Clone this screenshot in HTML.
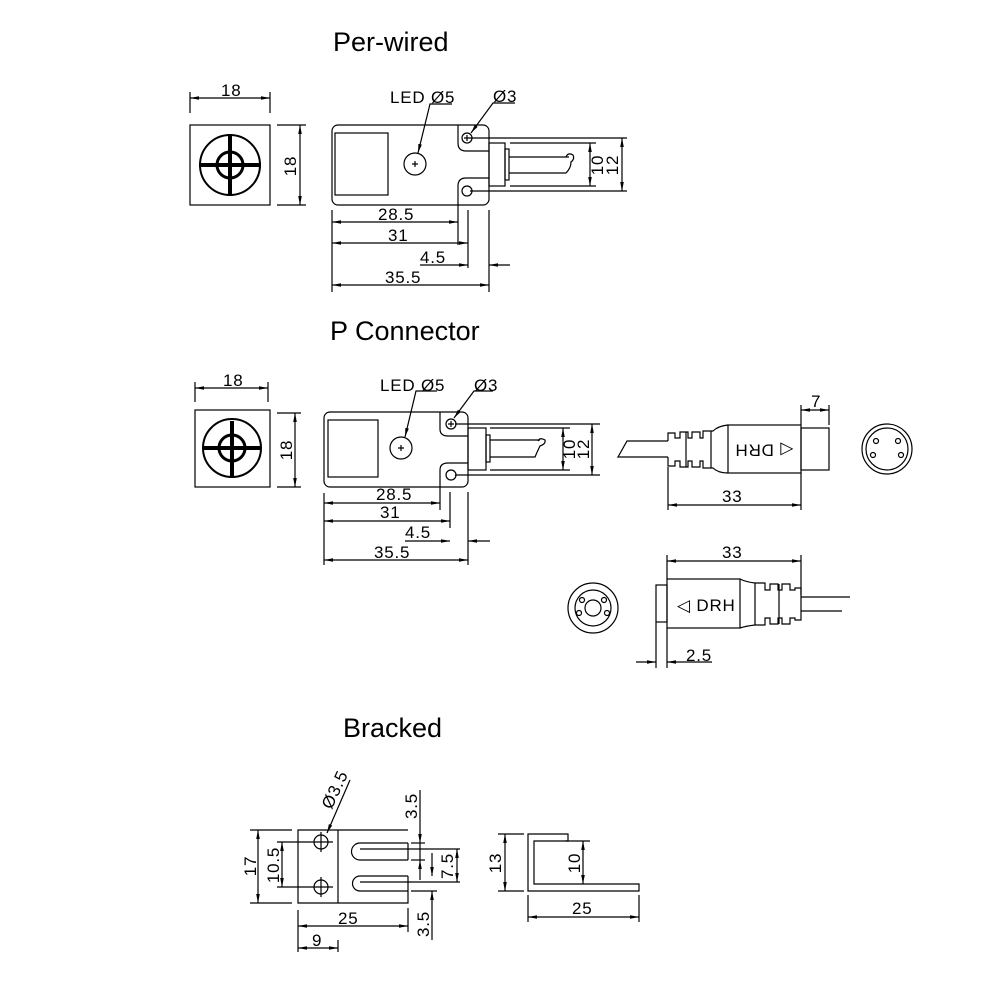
<!DOCTYPE html>
<html><head><meta charset="utf-8"><style>
html,body{margin:0;padding:0;background:#fff;}
svg{display:block;}
text{font-family:"Liberation Sans",sans-serif;fill:#000;}
.t{font-size:17px;letter-spacing:0.8px;}
.h{font-size:27px;}
</style></head><body>
<svg width="1000" height="1000" viewBox="0 0 1000 1000" xmlns="http://www.w3.org/2000/svg">
<defs>
<marker id="a" markerWidth="10" markerHeight="6" refX="9" refY="3" orient="auto-start-reverse" markerUnits="userSpaceOnUse">
<path d="M0,1.2 L9,3 L0,4.8 Z" fill="#000"/></marker>
</defs>
<g stroke="#000" stroke-width="1.2" fill="none">

<!-- ===== Per-wired ===== -->
<rect x="190" y="125" width="80" height="80"/>
<circle cx="230" cy="165" r="30" stroke-width="2"/>
<circle cx="230" cy="165" r="13" stroke-width="3"/>
<line x1="199" y1="165" x2="261" y2="165" stroke-width="4"/>
<line x1="230" y1="134" x2="230" y2="196" stroke-width="4"/>
<line x1="190" y1="92" x2="190" y2="113"/><line x1="270" y1="92" x2="270" y2="113"/>
<line x1="190" y1="98" x2="270" y2="98" marker-start="url(#a)" marker-end="url(#a)"/>
<line x1="277" y1="125" x2="306" y2="125"/><line x1="277" y1="205" x2="306" y2="205"/>
<line x1="300" y1="125" x2="300" y2="205" marker-start="url(#a)" marker-end="url(#a)"/>

<rect x="332" y="125" width="157" height="80" rx="6"/>
<rect x="335" y="133" width="53" height="62"/>
<circle cx="415" cy="164" r="11"/>
<path d="M412,164 H418 M415,161 V167"/>
<path d="M458,125 V143 Q458,151 466,151 H489"/>
<path d="M458,205 V186 Q458,178 466,178 H489"/>
<circle cx="467" cy="138" r="5"/><circle cx="467" cy="191" r="5"/>
<path d="M464,138 H470 M467,135 V141"/>
<rect x="489" y="143" width="16" height="43"/>
<rect x="505" y="149" width="4" height="31"/>
<path d="M509,157 H569 M509,173 H566 Q571,168 571,162 Q575,159 573,155 Q568,152 566,157"/>
<line x1="470" y1="138" x2="627" y2="138"/><line x1="470" y1="191" x2="627" y2="191"/>
<line x1="510" y1="143" x2="596" y2="143"/><line x1="510" y1="186" x2="596" y2="186"/>
<line x1="590" y1="143" x2="590" y2="186" marker-start="url(#a)" marker-end="url(#a)"/>
<line x1="622" y1="138" x2="622" y2="191" marker-start="url(#a)" marker-end="url(#a)"/>
<path d="M452,104 H430 L418,153" marker-end="url(#a)"/>
<path d="M515,103 H493 L471,133" marker-end="url(#a)"/>
<line x1="332" y1="210" x2="332" y2="292"/><line x1="458" y1="205" x2="458" y2="245"/>
<line x1="468" y1="210" x2="468" y2="268"/><line x1="489" y1="210" x2="489" y2="292"/>
<line x1="332" y1="222" x2="458" y2="222" marker-start="url(#a)" marker-end="url(#a)"/>
<line x1="332" y1="243" x2="468" y2="243" marker-start="url(#a)" marker-end="url(#a)"/>
<line x1="420" y1="265" x2="468" y2="265" marker-end="url(#a)"/>
<line x1="510" y1="265" x2="489" y2="265" marker-end="url(#a)"/>
<line x1="332" y1="285" x2="489" y2="285" marker-start="url(#a)" marker-end="url(#a)"/>

<!-- ===== P Connector ===== -->
<rect x="195" y="410" width="75" height="77"/>
<circle cx="232" cy="448" r="29" stroke-width="2"/>
<circle cx="232" cy="448" r="13" stroke-width="3"/>
<line x1="203" y1="448" x2="261" y2="448" stroke-width="4"/>
<line x1="232" y1="421" x2="232" y2="478" stroke-width="4"/>
<line x1="195" y1="382" x2="195" y2="402"/><line x1="268" y1="382" x2="268" y2="402"/>
<line x1="195" y1="388" x2="268" y2="388" marker-start="url(#a)" marker-end="url(#a)"/>
<line x1="277" y1="413" x2="301" y2="413"/><line x1="277" y1="487" x2="301" y2="487"/>
<line x1="295" y1="413" x2="295" y2="487" marker-start="url(#a)" marker-end="url(#a)"/>

<rect x="324" y="412" width="144" height="75" rx="6"/>
<rect x="328" y="420" width="50" height="57"/>
<circle cx="401" cy="448" r="11"/>
<path d="M398,448 H404 M401,445 V451"/>
<path d="M440,412 V429 Q440,436 448,436 H468"/>
<path d="M440,487 V470 Q440,463 448,463 H468"/>
<circle cx="451" cy="424" r="5"/><circle cx="451" cy="475" r="5"/>
<path d="M448,424 H454 M451,421 V427"/>
<rect x="468" y="428" width="18" height="42"/>
<rect x="486" y="435" width="4" height="27"/>
<path d="M490,440 H540 M490,457 H535 Q538,450 540,446 Q546,444 545,440 Q540,437 538,441"/>
<line x1="455" y1="424" x2="600" y2="424"/><line x1="455" y1="475" x2="600" y2="475"/>
<line x1="490" y1="428" x2="570" y2="428"/><line x1="490" y1="470" x2="570" y2="470"/>
<line x1="563" y1="428" x2="563" y2="470" marker-start="url(#a)" marker-end="url(#a)"/>
<line x1="592" y1="424" x2="592" y2="475" marker-start="url(#a)" marker-end="url(#a)"/>
<path d="M437,391 H416 L405,437" marker-end="url(#a)"/>
<path d="M493,391 H474 L454,418" marker-end="url(#a)"/>
<line x1="324" y1="493" x2="324" y2="565"/><line x1="440" y1="487" x2="440" y2="510"/>
<line x1="450" y1="492" x2="450" y2="528"/><line x1="468" y1="492" x2="468" y2="565"/>
<line x1="324" y1="503" x2="440" y2="503" marker-start="url(#a)" marker-end="url(#a)"/>
<line x1="324" y1="521" x2="450" y2="521" marker-start="url(#a)" marker-end="url(#a)"/>
<line x1="405" y1="541" x2="450" y2="541" marker-end="url(#a)"/>
<line x1="490" y1="541" x2="468" y2="541" marker-end="url(#a)"/>
<line x1="324" y1="560" x2="468" y2="560" marker-start="url(#a)" marker-end="url(#a)"/>

<!-- connector upper -->
<path d="M668,441 H627 L618,457 H668"/>
<path d="M668,441 V433 H675 V438 H680 V432 H688 V438 H692 V432 H700 V438 H703 V431 H713 Q718,426 728,425"/>
<path d="M668,457 V466 H675 V461 H680 V467 H688 V461 H692 V467 H700 V461 H703 V468 H713 Q718,473 728,473"/>
<line x1="686" y1="432" x2="686" y2="467"/><line x1="711" y1="431" x2="711" y2="468"/>
<rect x="728" y="425" width="73" height="48"/>
<rect x="801" y="428" width="28" height="42"/>
<line x1="668" y1="467" x2="668" y2="510"/><line x1="801" y1="473" x2="801" y2="510"/>
<line x1="668" y1="505" x2="801" y2="505" marker-start="url(#a)" marker-end="url(#a)"/>
<line x1="801" y1="405" x2="801" y2="425"/><line x1="829" y1="405" x2="829" y2="425"/>
<line x1="801" y1="410" x2="829" y2="410" marker-start="url(#a)" marker-end="url(#a)"/>
<circle cx="887" cy="449" r="25"/><circle cx="887" cy="449" r="21"/>
<circle cx="876" cy="441" r="2.5"/><circle cx="898" cy="441" r="2.5"/>
<circle cx="873" cy="455" r="2.5"/><circle cx="901" cy="455" r="2.5"/>

<!-- connector lower -->
<rect x="656" y="585" width="11" height="37"/>
<rect x="667" y="579" width="73" height="49"/>
<path d="M740,579 Q746,582 755,583 H765 V590 H770 V584 H778 V590 H782 V584 H790 V590 H795 V588 H801 V620 H795 V618 H790 V624 H782 V618 H778 V624 H770 V618 H765 V625 H755 Q746,626 740,628"/>
<line x1="755" y1="583" x2="755" y2="625"/><line x1="779" y1="584" x2="779" y2="624"/>
<path d="M801,597 H850 M801,611 H842"/>
<line x1="667" y1="555" x2="667" y2="579"/><line x1="801" y1="555" x2="801" y2="595"/>
<line x1="667" y1="561" x2="801" y2="561" marker-start="url(#a)" marker-end="url(#a)"/>
<line x1="656" y1="622" x2="656" y2="668"/><line x1="667" y1="628" x2="667" y2="668"/>
<line x1="636" y1="662" x2="656" y2="662" marker-end="url(#a)"/>
<line x1="712" y1="662" x2="667" y2="662" marker-end="url(#a)"/>
<circle cx="593" cy="608" r="25"/><circle cx="593" cy="608" r="18"/><circle cx="593" cy="608" r="8"/>
<circle cx="582" cy="600" r="2.5"/><circle cx="604" cy="600" r="2.5"/>
<circle cx="579" cy="613" r="2.5"/><circle cx="607" cy="613" r="2.5"/>

<!-- ===== Bracked ===== -->
<path d="M408,830 H298 V903 H408 V876 M408,860 V843"/>
<line x1="338" y1="830" x2="338" y2="903"/>
<path d="M408,843 H360 A8.5,8.5 0 0 0 360,860 H408"/>
<path d="M408,876 H360 A7.5,7.5 0 0 0 360,891 H408"/>
<line x1="360" y1="849" x2="460" y2="849"/><line x1="360" y1="882" x2="460" y2="882"/>
<line x1="411" y1="843" x2="425" y2="843"/><line x1="411" y1="860" x2="425" y2="860"/>
<line x1="411" y1="891" x2="437" y2="891"/>
<circle cx="321" cy="842" r="7"/><circle cx="321" cy="887" r="7"/>
<line x1="277" y1="842" x2="333" y2="842"/><line x1="321" y1="832" x2="321" y2="852"/>
<line x1="277" y1="887" x2="333" y2="887"/><line x1="321" y1="877" x2="321" y2="897"/>
<line x1="250" y1="830" x2="292" y2="830"/><line x1="250" y1="903" x2="292" y2="903"/>
<line x1="258" y1="830" x2="258" y2="903" marker-start="url(#a)" marker-end="url(#a)"/>
<line x1="282" y1="842" x2="282" y2="887" marker-start="url(#a)" marker-end="url(#a)"/>
<line x1="298" y1="910" x2="298" y2="952"/><line x1="408" y1="908" x2="408" y2="932"/>
<line x1="338" y1="940" x2="338" y2="952"/>
<line x1="298" y1="926" x2="408" y2="926" marker-start="url(#a)" marker-end="url(#a)"/>
<line x1="298" y1="948" x2="338" y2="948" marker-start="url(#a)" marker-end="url(#a)"/>
<line x1="420" y1="790" x2="420" y2="843" marker-end="url(#a)"/>
<line x1="420" y1="880" x2="420" y2="860" marker-end="url(#a)"/>
<line x1="420" y1="843" x2="420" y2="860"/>
<line x1="432" y1="853" x2="432" y2="876" marker-end="url(#a)"/>
<line x1="432" y1="940" x2="432" y2="891" marker-end="url(#a)"/>
<line x1="457" y1="849" x2="457" y2="882" marker-start="url(#a)" marker-end="url(#a)"/>
<path d="M327,833 L350,780" marker-start="url(#a)"/>

<path d="M528,834 H568 V841 H534 V884 H639 V891 H528 Z"/>
<line x1="498" y1="834" x2="524" y2="834"/><line x1="498" y1="891" x2="524" y2="891"/>
<line x1="505" y1="834" x2="505" y2="891" marker-start="url(#a)" marker-end="url(#a)"/>
<line x1="565" y1="841" x2="590" y2="841"/>
<line x1="583" y1="841" x2="583" y2="884" marker-start="url(#a)" marker-end="url(#a)"/>
<line x1="528" y1="895" x2="528" y2="922"/><line x1="639" y1="895" x2="639" y2="922"/>
<line x1="528" y1="917" x2="639" y2="917" marker-start="url(#a)" marker-end="url(#a)"/>
</g>

<!-- text -->
<text class="h" x="333" y="51">Per-wired</text>
<text class="t" x="221" y="96">18</text>
<text class="t" transform="translate(296,166) rotate(-90)" text-anchor="middle">18</text>
<text class="t" x="390" y="103">LED Ø5</text>
<text class="t" x="493" y="102">Ø3</text>
<text class="t" transform="translate(603,165) rotate(-90)" text-anchor="middle">10</text>
<text class="t" transform="translate(618,165) rotate(-90)" text-anchor="middle">12</text>
<text class="t" x="378" y="220">28.5</text>
<text class="t" x="388" y="241">31</text>
<text class="t" x="420" y="263">4.5</text>
<text class="t" x="385" y="283">35.5</text>

<text class="h" x="330" y="340">P Connector</text>
<text class="t" x="223" y="386">18</text>
<text class="t" transform="translate(292,450) rotate(-90)" text-anchor="middle">18</text>
<text class="t" x="380" y="391">LED Ø5</text>
<text class="t" x="474" y="391">Ø3</text>
<text class="t" transform="translate(575,449) rotate(-90)" text-anchor="middle">10</text>
<text class="t" transform="translate(589,449) rotate(-90)" text-anchor="middle">12</text>
<text class="t" x="376" y="500">28.5</text>
<text class="t" x="380" y="518">31</text>
<text class="t" x="405" y="538">4.5</text>
<text class="t" x="374" y="558">35.5</text>

<text class="t" transform="translate(764,449) rotate(180)" text-anchor="middle" dominant-baseline="middle">◁ DRH</text>
<text class="t" x="722" y="502">33</text>
<text class="t" x="811" y="407">7</text>
<text class="t" x="677" y="611">◁ DRH</text>
<text class="t" x="722" y="558">33</text>
<text class="t" x="686" y="661">2.5</text>

<text class="h" x="343" y="737">Bracked</text>
<text class="t" transform="translate(340,792) rotate(-65)" text-anchor="middle">Ø3.5</text>
<text class="t" transform="translate(256,866) rotate(-90)" text-anchor="middle">17</text>
<text class="t" transform="translate(279,865) rotate(-90)" text-anchor="middle">10.5</text>
<text class="t" x="338" y="924">25</text>
<text class="t" x="312" y="946">9</text>
<text class="t" transform="translate(417,806) rotate(-90)" text-anchor="middle">3.5</text>
<text class="t" transform="translate(429,924) rotate(-90)" text-anchor="middle">3.5</text>
<text class="t" transform="translate(453,866) rotate(-90)" text-anchor="middle">7.5</text>
<text class="t" transform="translate(501,863) rotate(-90)" text-anchor="middle">13</text>
<text class="t" transform="translate(580,863) rotate(-90)" text-anchor="middle">10</text>
<text class="t" x="572" y="914">25</text>
</svg>
</body></html>
